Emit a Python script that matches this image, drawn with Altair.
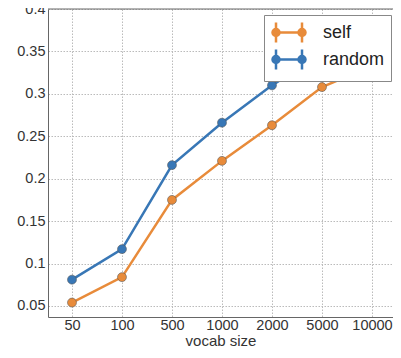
import altair as alt
import pandas as pd

vocab = ["50", "100", "500", "1000", "2000", "5000", "10000"]
self_vals = [0.054, 0.084, 0.175, 0.221, 0.263, 0.308, 0.333]
random_vals = [0.081, 0.117, 0.216, 0.266, 0.310, 0.348, 0.375]
series = ["self", "random"]
colors = ["#e88b3a", "#3877b6"]
y_ticks = [0.05, 0.1, 0.15, 0.2, 0.25, 0.3, 0.35, 0.4]
frame_top = [0.4]

rows = []
for s, vals in zip(series, [self_vals, random_vals]):
    for v, val in zip(vocab, vals):
        rows.append({"vocab": v, "acc": val, "series": s})
df = pd.DataFrame(rows)

# legend glyph: line with a filled dot and a vertical tick at each end
legend_path = (
    "M-0.55,0H2.05M-0.55,-1V1M2.05,-1V1"
    "M-0.9,0A0.35,0.35 0 1,0 -0.2,0A0.35,0.35 0 1,0 -0.9,0Z"
    "M-0.7,0A0.15,0.15 0 1,0 -0.4,0A0.15,0.15 0 1,0 -0.7,0Z"
    "M1.7,0A0.35,0.35 0 1,0 2.4,0A0.35,0.35 0 1,0 1.7,0Z"
    "M1.9,0A0.15,0.15 0 1,0 2.2,0A0.15,0.15 0 1,0 1.9,0Z"
)

FONT = "Liberation Sans"
GRID = dict(grid=True, gridColor="#bbbbbb", gridDash=[1.5, 1.5], gridWidth=1)
Y_SCALE = alt.Scale(domain=[0.037, 0.4], nice=False, zero=False)

x_enc = alt.X(
    "vocab:O",
    sort=vocab,
    scale=alt.Scale(padding=0.45, align=0.533),
    axis=alt.Axis(
        title="vocab size",
        labelAngle=0,
        labelFontSize=14.5,
        labelFont=FONT,
        labelColor="#333",
        titleFontSize=15,
        titleFont=FONT,
        titleFontWeight="normal",
        titleColor="#333",
        titlePadding=2,
        tickSize=0,
        labelPadding=1,
        domain=True,
        domainColor="#666",
        **GRID,
    ),
)
y_axis = alt.Axis(
    title=None,
    values=y_ticks,
    format="~g",
    labelFontSize=14.5,
    labelFont=FONT,
    labelColor="#333",
    tickSize=0,
    labelPadding=3,
    domain=True,
    domainColor="#666",
    **GRID,
)

leg = alt.Legend(
    title=None,
    orient="none",
    legendX=216,
    legendY=6,
    symbolType=legend_path,
    symbolSize=400,
    symbolStrokeWidth=2.5,
    symbolOpacity=1,
    labelFontSize=18,
    labelFont=FONT,
    labelColor="#222",
    labelOffset=30,
    rowPadding=-6,
    padding=6,
    fillColor="white",
    strokeColor="#888",
    cornerRadius=0,
)

lines = alt.Chart(df).mark_line(strokeWidth=2.5).encode(
    x=x_enc,
    y=alt.Y("acc:Q", scale=Y_SCALE, axis=y_axis),
    color=alt.Color("series:N", scale=alt.Scale(domain=series, range=colors), legend=leg),
)

points = alt.Chart(df).mark_point(
    filled=True, size=80, stroke="#555555", strokeWidth=0.7, strokeOpacity=0.8, opacity=1
).encode(
    x=x_enc,
    y=alt.Y("acc:Q", scale=Y_SCALE, axis=y_axis),
    color=alt.Color("series:N", scale=alt.Scale(domain=series, range=colors), legend=None),
)

top_frame = alt.Chart(pd.DataFrame({"acc": frame_top})).mark_rule(color="#666", strokeWidth=1).encode(
    y=alt.Y("acc:Q", scale=Y_SCALE, axis=y_axis)
)

chart = (
    alt.layer(lines, points, top_frame)
    .properties(
        width=345,
        height=308,
        autosize=alt.AutoSizeParams(type="none"),
        padding={"left": 40, "top": 1, "right": 0, "bottom": 32},
        background="white",
    )
    .configure_view(stroke=None)
)

chart.save("out.html", embed_options={"renderer": "svg", "actions": False})
